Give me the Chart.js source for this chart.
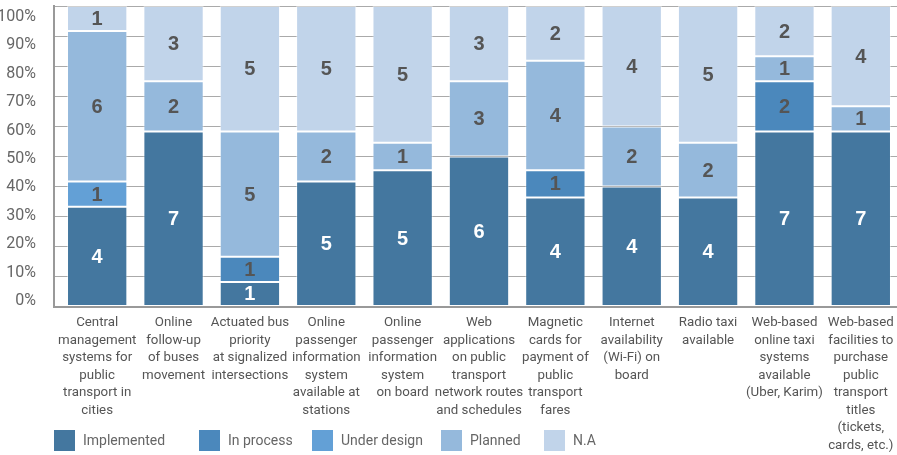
<!DOCTYPE html>
<html>
<head>
<meta charset="utf-8">
<script src="https://cdn.jsdelivr.net/npm/chart.js@4"></script>
<style>
  html, body { margin: 0; padding: 0; background: #fff; }
  #wrap { position: relative; width: 897px; height: 455px; }
  #legend { position: absolute; left: 54px; top: 430px; font: 14px Roboto, sans-serif; color: #666; }
  #legend span.item { position: absolute; top: 0; white-space: nowrap; }
  #legend i { position: absolute; top: 0; width: 21px; height: 21px; }
  #legend b { position: absolute; left: 29px; top: 2px; font-weight: normal; }
</style>
</head>
<body>
<div id="wrap">
  <canvas id="chart" width="897" height="455"></canvas>
  <div id="legend"></div>
</div>
<script>
// categorias (eixo x)
const categories = [
    ["Central", "management", "systems for", "public", "transport in", "cities"],
    ["Online", "follow-up", "of buses", "movement"],
    ["Actuated bus", "priority", "at signalized", "intersections"],
    ["Online", "passenger", "information", "system", "available at", "stations"],
    ["Online", "passenger", "information", "system", "on board"],
    ["Web", "applications", "on public", "transport", "network routes", "and schedules"],
    ["Magnetic", "cards for", "payment of", "public", "transport", "fares"],
    ["Internet", "availability", "(Wi-Fi) on", "board"],
    ["Radio taxi", "available"],
    ["Web-based", "online taxi", "systems", "available", "(Uber, Karim)"],
    ["Web-based", "facilities to", "purchase", "public", "transport", "titles", "(tickets,", "cards, etc.)"]
];

// contagens por série
const implemented = [4, 7, 1, 5, 5, 6, 4, 4, 4, 7, 7];
const inProcess   = [0, 0, 1, 0, 0, 0, 1, 0, 0, 2, 0];
const underDesign = [1, 0, 0, 0, 0, 0, 0, 0, 0, 0, 0];
const planned     = [6, 2, 5, 2, 1, 3, 4, 2, 2, 1, 1];
const notApplic   = [1, 3, 5, 5, 5, 3, 2, 4, 5, 2, 4];

const seriesNames  = ["Implemented", "In process", "Under design", "Planned", "N.A"];
const seriesColors = ["#44779f", "#4b88bc", "#63a0d6", "#95b9dc", "#c1d4ea"];
const labelColors  = ["#ffffff", "#555555", "#555555", "#555555", "#555555"];
const yTicks = [0, 10, 20, 30, 40, 50, 60, 70, 80, 90, 100];

const series = [implemented, inProcess, underDesign, planned, notApplic];
const totals = categories.map((c, i) => series.reduce((s, arr) => s + arr[i], 0));

const datasets = series.map((arr, k) => ({
    label: seriesNames[k],
    data: arr.map((v, i) => v / totals[i] * 100),
    counts: arr,
    backgroundColor: seriesColors[k],
    borderColor: 'rgba(255,255,255,0.45)',
    borderWidth: 1,
    borderSkipped: false,
    categoryPercentage: 1,
    barPercentage: 0.79
}));

// rótulos dentro das barras
const countLabels = {
    id: 'countLabels',
    afterDatasetsDraw(chart) {
        const ctx = chart.ctx;
        ctx.save();
        ctx.font = 'bold 20px "Liberation Sans", Arial, sans-serif';
        ctx.textAlign = 'center';
        ctx.textBaseline = 'middle';
        chart.data.datasets.forEach((ds, k) => {
            chart.getDatasetMeta(k).data.forEach((bar, i) => {
                const n = ds.counts[i];
                if (!n) return;
                ctx.fillStyle = labelColors[k];
                ctx.fillText(String(n), bar.x, (bar.y + bar.base) / 2 + 1);
            });
        });
        ctx.restore();
    }
};

// as barras começam um pouco à direita do eixo y, como no original
const shiftX = {
    id: 'shiftX',
    afterLayout(chart) {
        const x = chart.scales.x;
        x.left = 59;
        x.right = 899;
        x.configure();
    }
};

const noPad = s => { s.paddingTop = 0; s.paddingBottom = 0; };

new Chart(document.getElementById('chart').getContext('2d'), {
    type: 'bar',
    data: { labels: categories, datasets: datasets },
    options: {
        responsive: false,
        animation: false,
        layout: { padding: { top: 6, right: 0, left: 0, bottom: 0 } },
        plugins: { legend: { display: false }, tooltip: { enabled: false } },
        scales: {
            x: {
                stacked: true,
                grid: { display: false, drawTicks: false },
                border: { color: '#999', width: 2 },
                afterFit: s => { s.height = 148; s.paddingLeft = 0; s.paddingRight = 0; },
                ticks: {
                    color: '#555',
                    font: { family: 'Roboto', size: 13.3, lineHeight: 1.32 },
                    maxRotation: 0, autoSkip: false, padding: 7
                }
            },
            y: {
                stacked: true,
                min: 0, max: 100,
                afterBuildTicks: s => { s.ticks = yTicks.map(v => ({ value: v })); },
                afterFit: s => { s.width = 0; noPad(s); },
                ticks: { display: false },
                grid: {
                    color: c => c.tick && c.tick.value === 0 ? '#999' : '#aaa',
                    lineWidth: c => c.tick && c.tick.value === 0 ? 2 : 1,
                    drawTicks: false
                },
                border: { color: '#999', width: 2 }
            },
            yLabels: {
                position: 'left',
                weight: 1,
                min: -2.11, max: 103.88,
                afterBuildTicks: s => { s.ticks = yTicks.map(v => ({ value: v })); },
                afterFit: s => { s.width = 54; noPad(s); },
                grid: { display: false },
                border: { display: false },
                ticks: {
                    color: '#666',
                    padding: 10,
                    font: { family: 'Roboto', size: 16 },
                    callback: v => v + '%'
                }
            }
        }
    },
    plugins: [shiftX, countLabels]
});

// legenda em HTML
const legendX = [0, 145, 258, 387, 490];
document.getElementById('legend').innerHTML = seriesNames.map((name, k) =>
    `<span class="item" style="left:${legendX[k]}px"><i style="background:${seriesColors[k]}"></i><b>${name}</b></span>`
).join('');
</script>
</body>
</html>
